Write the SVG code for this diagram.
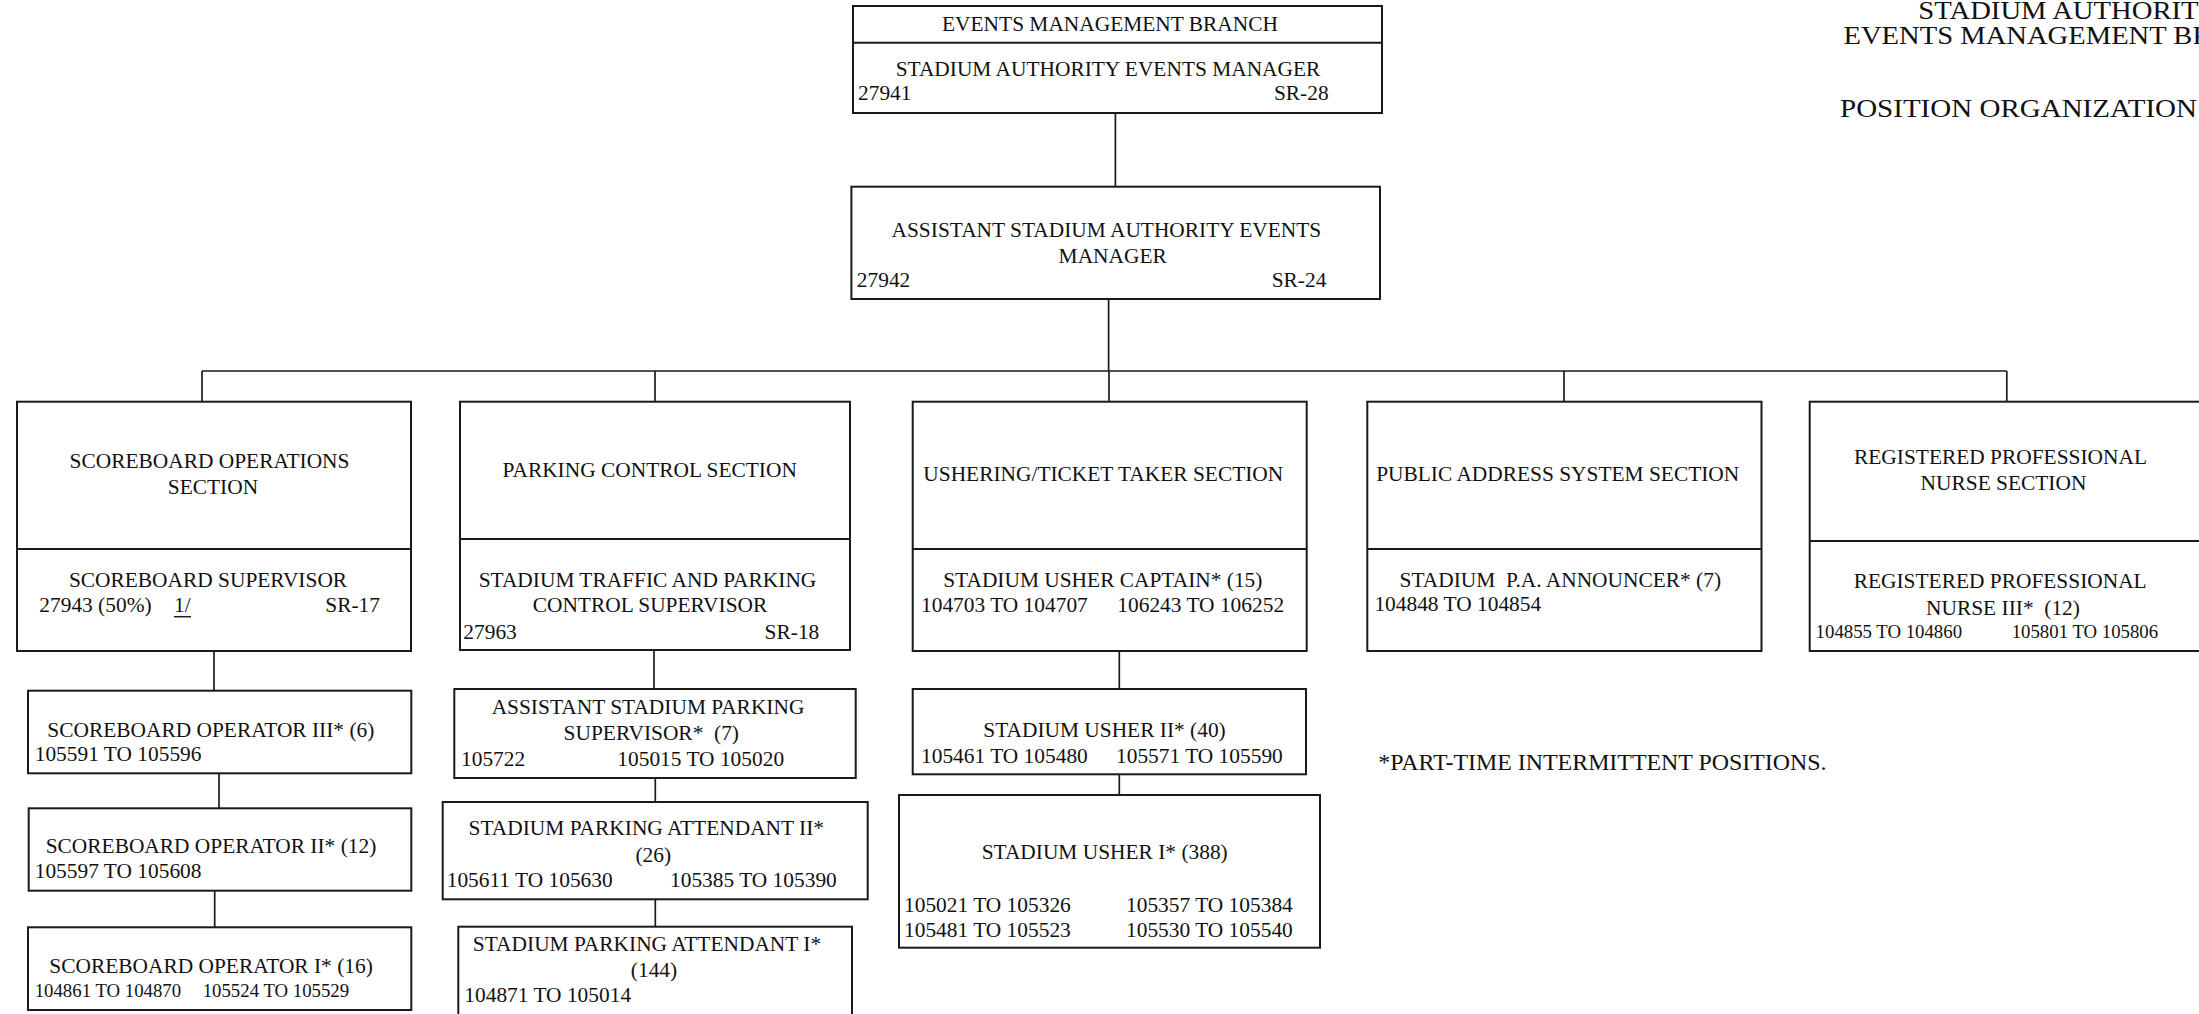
<svg xmlns="http://www.w3.org/2000/svg" width="2199" height="1014" viewBox="0 0 2199 1014">
<style>
text{font-family:"Liberation Serif","Times New Roman",serif;font-size:21.4px;fill:#111}
.m{text-anchor:middle}
.e{text-anchor:end}
.s{font-size:18.8px}
.t{font-size:25px}
.f{font-size:23.9px}
rect{fill:#fff;stroke:#1a1a1a;stroke-width:2}
line{stroke:#1a1a1a;stroke-width:1.7}
.d{stroke-width:2}
</style>
<rect x="0" y="0" width="2199" height="1014" style="fill:#fff;stroke:none"/>
<g id="connectors">
<line x1="1115.4" y1="112.7" x2="1115.4" y2="186.7"/>
<line x1="1108.6" y1="299" x2="1108.6" y2="371"/>
<line x1="202" y1="371" x2="2006.8" y2="371"/>
<line x1="202" y1="371" x2="202" y2="401.7"/>
<line x1="655" y1="371" x2="655" y2="401.7"/>
<line x1="1109" y1="371" x2="1109" y2="401.7"/>
<line x1="1564" y1="371" x2="1564" y2="401.7"/>
<line x1="2006.8" y1="371" x2="2006.8" y2="401.7"/>
<line x1="214" y1="651" x2="214" y2="690.7"/>
<line x1="219" y1="773.3" x2="219" y2="808.3"/>
<line x1="214.7" y1="890.7" x2="214.7" y2="927.3"/>
<line x1="654" y1="650" x2="654" y2="689"/>
<line x1="655.3" y1="778" x2="655.3" y2="802"/>
<line x1="655.3" y1="899.3" x2="655.3" y2="926.7"/>
<line x1="1119.3" y1="651" x2="1119.3" y2="689"/>
<line x1="1119.3" y1="774.3" x2="1119.3" y2="795"/>
</g>
<g id="title">
<text class="t" x="1918.3" y="18.5" textLength="301" lengthAdjust="spacingAndGlyphs">STADIUM AUTHORITY</text>
<text class="t" x="1843.5" y="44" textLength="449" lengthAdjust="spacingAndGlyphs">EVENTS MANAGEMENT BRANCH</text>
<text class="t" x="1840" y="116.5" textLength="357" lengthAdjust="spacingAndGlyphs">POSITION ORGANIZATION</text>
</g>
<g id="events-manager">
<rect x="853" y="6" width="529" height="107"/>
<line class="d" x1="853" y1="42.7" x2="1382" y2="42.7"/>
<text class="m" x="1110" y="31">EVENTS MANAGEMENT BRANCH</text>
<text class="m" x="1108" y="76">STADIUM AUTHORITY EVENTS MANAGER</text>
<text x="858" y="100">27941</text>
<text class="e" x="1328.6" y="100">SR-28</text>
</g>
<g id="assistant-manager">
<rect x="851.4" y="186.7" width="528.6" height="112.3"/>
<text class="m" x="1106.4" y="237.3">ASSISTANT STADIUM AUTHORITY EVENTS</text>
<text class="m" x="1112.7" y="263.3">MANAGER</text>
<text x="856.8" y="287.3">27942</text>
<text class="e" x="1326.4" y="287.3">SR-24</text>
</g>
<g id="scoreboard-section">
<rect x="17" y="401.7" width="394" height="249.3"/>
<line class="d" x1="17" y1="549" x2="411" y2="549"/>
<text class="m" x="209.5" y="468.3">SCOREBOARD OPERATIONS</text>
<text class="m" x="213" y="494.3">SECTION</text>
<text class="m" x="208" y="586.7">SCOREBOARD SUPERVISOR</text>
<text x="39.3" y="612.3">27943 (50%)</text>
<text x="174" y="612.3">1/</text>
<line x1="174" y1="616.7" x2="191" y2="616.7" style="stroke-width:1.5"/>
<text class="e" x="380" y="612.3">SR-17</text>
</g>
<g id="scoreboard-operator-3">
<rect x="28" y="690.7" width="383.3" height="82.6"/>
<text x="47.3" y="736.7">SCOREBOARD OPERATOR III* (6)</text>
<text x="34.7" y="760.7">105591 TO 105596</text>
</g>
<g id="scoreboard-operator-2">
<rect x="28.7" y="808.3" width="382.6" height="82.4"/>
<text x="45.7" y="853.3">SCOREBOARD OPERATOR II* (12)</text>
<text x="34.7" y="878.3">105597 TO 105608</text>
</g>
<g id="scoreboard-operator-1">
<rect x="28" y="927.3" width="383.3" height="82.7"/>
<text x="49.3" y="973.3">SCOREBOARD OPERATOR I* (16)</text>
<text class="s" x="34.7" y="997.3">104861 TO 104870</text>
<text class="s" x="202.7" y="997.3">105524 TO 105529</text>
</g>
<g id="parking-section">
<rect x="460" y="401.7" width="390" height="248.3"/>
<line class="d" x1="460" y1="539" x2="850" y2="539"/>
<text class="m" x="649.7" y="476.7">PARKING CONTROL SECTION</text>
<text class="m" x="647.5" y="586.7">STADIUM TRAFFIC AND PARKING</text>
<text class="m" x="650" y="612.3">CONTROL SUPERVISOR</text>
<text x="463.3" y="639.3">27963</text>
<text class="e" x="819.3" y="639.3">SR-18</text>
</g>
<g id="assistant-parking-supervisor">
<rect x="454.3" y="689" width="401.4" height="89"/>
<text class="m" x="648" y="714">ASSISTANT STADIUM PARKING</text>
<text class="m" x="651.3" y="740" xml:space="preserve">SUPERVISOR*  (7)</text>
<text x="461" y="766">105722</text>
<text x="617.3" y="766">105015 TO 105020</text>
</g>
<g id="parking-attendant-2">
<rect x="442.7" y="802" width="425" height="97.3"/>
<text class="m" x="646.3" y="835">STADIUM PARKING ATTENDANT II*</text>
<text class="m" x="653.3" y="861.7">(26)</text>
<text x="446.7" y="887.3">105611 TO 105630</text>
<text x="670" y="887.3">105385 TO 105390</text>
</g>
<g id="parking-attendant-1">
<rect x="458.3" y="926.7" width="393.7" height="100"/>
<text class="m" x="647" y="950.7">STADIUM PARKING ATTENDANT I*</text>
<text class="m" x="654" y="977.3">(144)</text>
<text x="464.3" y="1001.7">104871 TO 105014</text>
</g>
<g id="ushering-section">
<rect x="912.7" y="401.7" width="394" height="249.3"/>
<line class="d" x1="912.7" y1="549" x2="1306.7" y2="549"/>
<text class="m" x="1103.3" y="480.7">USHERING/TICKET TAKER SECTION</text>
<text class="m" x="1102.8" y="586.7">STADIUM USHER CAPTAIN* (15)</text>
<text x="921" y="612.3">104703 TO 104707</text>
<text x="1117.3" y="612.3">106243 TO 106252</text>
</g>
<g id="usher-2">
<rect x="912.7" y="689" width="393.3" height="85.3"/>
<text class="m" x="1104.5" y="737.3">STADIUM USHER II* (40)</text>
<text x="921" y="763.3">105461 TO 105480</text>
<text x="1116" y="763.3">105571 TO 105590</text>
</g>
<g id="usher-1">
<rect x="899" y="795" width="421" height="152.7"/>
<text class="m" x="1104.7" y="859">STADIUM USHER I* (388)</text>
<text x="904" y="911.7">105021 TO 105326</text>
<text x="1126" y="911.7">105357 TO 105384</text>
<text x="904" y="936.7">105481 TO 105523</text>
<text x="1126" y="936.7">105530 TO 105540</text>
</g>
<g id="public-address-section">
<rect x="1367.3" y="401.7" width="394.2" height="249.3"/>
<line class="d" x1="1367.3" y1="549" x2="1761.5" y2="549"/>
<text class="m" x="1557.7" y="480.7">PUBLIC ADDRESS SYSTEM SECTION</text>
<text class="m" x="1560.3" y="586.7" xml:space="preserve">STADIUM  P.A. ANNOUNCER* (7)</text>
<text x="1374.4" y="610.7">104848 TO 104854</text>
</g>
<g id="nurse-section">
<rect x="1809.7" y="401.7" width="392" height="249.3"/>
<line class="d" x1="1809.7" y1="541" x2="2201.7" y2="541"/>
<text class="m" x="2000.5" y="463.5">REGISTERED PROFESSIONAL</text>
<text class="m" x="2003.5" y="490">NURSE SECTION</text>
<text class="m" x="2000.2" y="588.3">REGISTERED PROFESSIONAL</text>
<text class="m" x="2003" y="615" xml:space="preserve">NURSE III*  (12)</text>
<text class="s" x="1815.6" y="638.3">104855 TO 104860</text>
<text class="s" x="2011.7" y="638.3">105801 TO 105806</text>
</g>
<g id="footnote">
<text class="f" x="1378.3" y="770">*PART-TIME INTERMITTENT POSITIONS.</text>
</g>
</svg>
